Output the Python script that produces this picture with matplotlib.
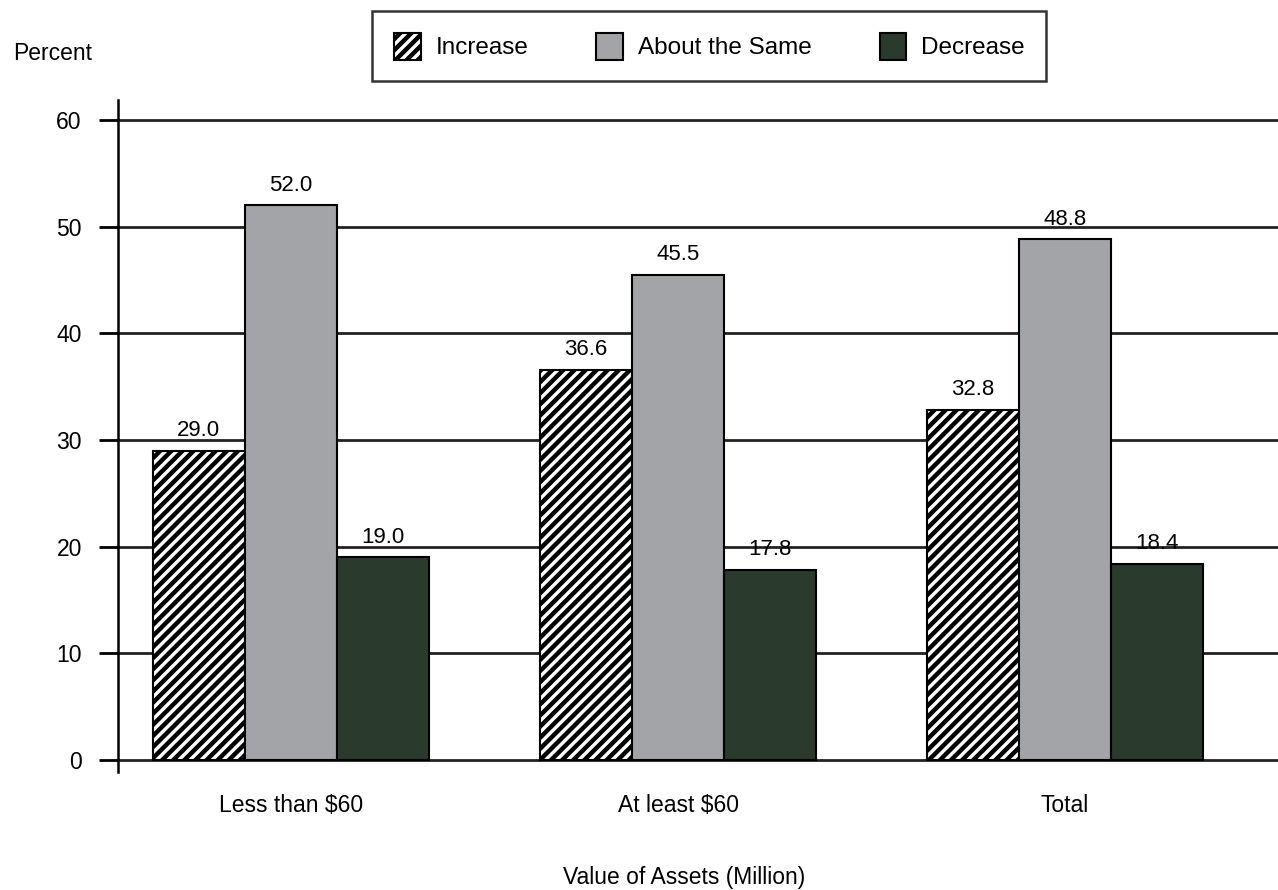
import matplotlib
matplotlib.use('Agg')
import matplotlib.pyplot as plt
import numpy as np

groups = ['Less than $60', 'At least $60', 'Total']
series = ['Increase', 'About the Same', 'Decrease']
increase = [29.0, 36.6, 32.8]
same = [52.0, 45.5, 48.8]
decrease = [19.0, 17.8, 18.4]

plt.rcParams['font.family'] = ['Liberation Sans', 'DejaVu Sans']
plt.rcParams['hatch.linewidth'] = 3.2
plt.rcParams['hatch.color'] = 'black'

fig = plt.figure(figsize=(12.78, 8.9), dpi=100)
ax = fig.add_axes([0.0923, 0.1326, 0.9077, 0.755])

x = np.arange(len(groups))
w = 0.238
styles = [
    dict(facecolor='white', hatch='///'),
    dict(facecolor='#a2a4a8'),
    dict(facecolor='#2a3a2c'),
]
handles = []
for i, (vals, st) in enumerate(zip([increase, same, decrease], styles)):
    bars = ax.bar(x + (i - 1) * w, vals, w, edgecolor='black', linewidth=1.5,
                  zorder=3, label=series[i], **st)
    handles.append(bars)
    for b, v in zip(bars, vals):
        ax.annotate(f'{v:.1f}', (b.get_x() + b.get_width() / 2, v),
                    xytext=(0, 7), textcoords='offset points',
                    ha='center', va='bottom', fontsize=16)

ax.set_xlim(-0.447, 2.55)
ax.set_ylim(-1.125, 61.875)
ax.set_yticks(range(0, 61, 10))
ax.yaxis.grid(True, color='#222222', linewidth=2)
ax.set_axisbelow(True)

for s in ['top', 'right', 'bottom']:
    ax.spines[s].set_visible(False)
ax.spines['left'].set_linewidth(1.8)

ax.tick_params(axis='y', length=14, width=2, labelsize=16.5, pad=12)
ax.set_xticks(x)
ax.set_xticklabels(groups, fontsize=16.5)
ax.tick_params(axis='x', length=0, pad=16)

fig.text(0.535, 0.0146, 'Value of Assets (Million)', ha='center', va='center',
         fontsize=16.5)
fig.text(0.041, 0.94, 'Percent', ha='center', va='center', fontsize=16.5)

leg = fig.legend(handles=handles, labels=series, loc='center',
                 bbox_to_anchor=(0.555, 0.948), ncol=3, fontsize=17.5,
                 frameon=True, fancybox=False, handlelength=1.1,
                 handleheight=1.3, columnspacing=2.8, borderpad=0.9,
                 handletextpad=0.6)
leg.get_frame().set_edgecolor('black')
leg.get_frame().set_linewidth(1.8)

fig.savefig('out.png', dpi=100)
